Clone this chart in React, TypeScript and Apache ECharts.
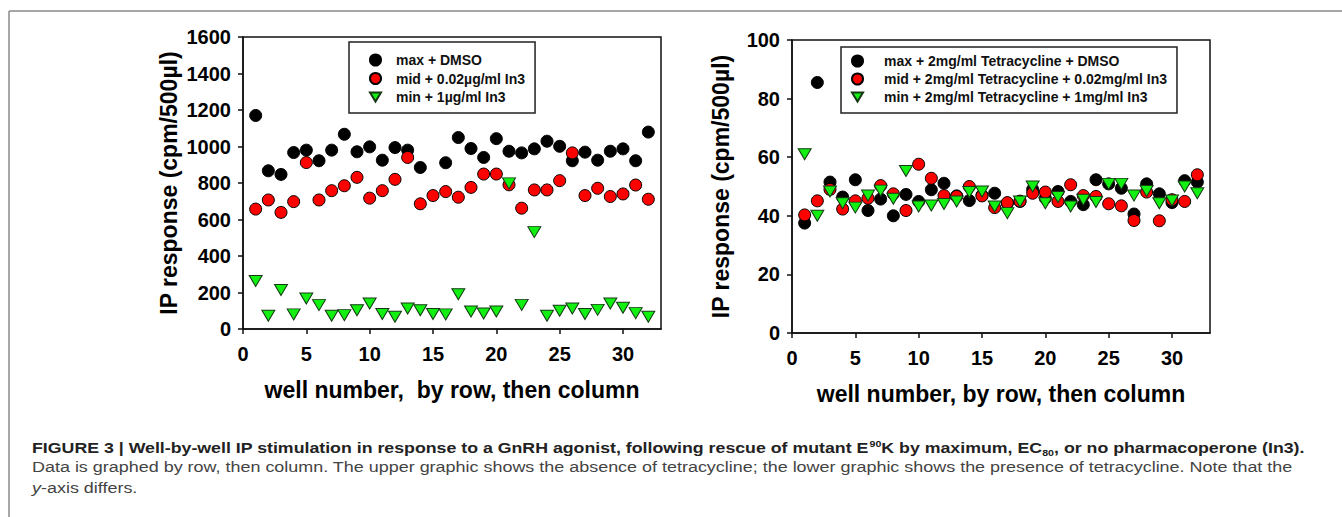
import React, { useEffect, useRef } from "react";
import * as echarts from "echarts";

const wells = [1, 2, 3, 4, 5, 6, 7, 8, 9, 10, 11, 12, 13, 14, 15, 16, 17, 18, 19, 20, 21, 22, 23, 24, 25, 26, 27, 28, 29, 30, 31, 32];
const xTicks = [0, 5, 10, 15, 20, 25, 30];

// Left panel (no tetracycline)
const leftNames = ["max + DMSO", "mid + 0.02\u00b5g/ml In3", "min + 1\u00b5g/ml In3"];
const maxDMSO = [1170, 867, 847, 967, 980, 922, 980, 1067, 971, 998, 925, 994, 980, 885, null, 911, 1049, 989, 940, 1043, 974, 965, 987, 1029, 1001, 922, 969, 925, 974, 987, 922, 1079];
const midIn3 = [657, 707, 639, 698, 912, 707, 758, 785, 831, 717, 758, 820, 940, 686, 731, 753, 722, 776, 849, 849, 790, 662, 762, 762, 813, 965, 731, 771, 726, 740, 789, 711];
const minIn3 = [263, 73, 214, 80, 167, 131, 73, 76, 103, 140, 82, 67, 112, 103, 82, 80, 190, 96, 85, 96, 798, 132, 531, 73, 100, 112, 82, 105, 140, 116, 87, 67];

// Right panel (with tetracycline)
const rightNames = [
  "max + 2mg/ml Tetracycline + DMSO",
  "mid + 2mg/ml Tetracycline + 0.02mg/ml In3",
  "min + 2mg/ml Tetracycline + 1mg/ml In3",
];
const maxTet = [37.5, 85.5, 51.5, 46.4, 52.3, 41.8, 45.7, 40, 47.3, 44.9, 48.9, 51.1, 46.8, 45.2, 47, 47.7, 44.3, 44.9, 49, 46, 48.3, 44.9, 43.8, 52.3, 50.9, 49.4, 40.6, 50.9, 47.5, 44.5, 52, 51.5];
const midTet = [40.3, 45.1, 49, 42.3, 45.1, 46, 50.3, 47.5, 41.8, 57.6, 52.8, 46.9, 46.6, 50, 46.8, 42.8, 44.5, 45, 47.7, 48.1, 44.9, 50.6, 46.9, 46.6, 44.1, 43.4, 38.4, 48.1, 38.3, 45.5, 44.9, 54];
const minTet = [61, 40, 48.3, 44.3, 42.8, 46.9, 48.6, 45.8, 55.3, 43.2, 43.5, 44, 44.9, 48.1, 48.3, 43.2, 40.9, 44.9, 50, 44.3, 46.4, 43.2, 45.5, 44.7, 50.9, 50.9, 46.9, 48.5, 44.3, 45.2, 50, 47.7];

const yTitle = "IP response (cpm/500\u00b5l)";
const leftXTitle = "well number,  by row, then column";
const rightXTitle = "well number, by row, then column";

const FONT = "Liberation Sans, Arial, Helvetica, sans-serif";
const DOWN_TRI = "path://M0,0 L12,0 L6,10 Z";

const toPairs = (vals: (number | null)[]) =>
  wells.map((w, i) => [w, vals[i]]).filter((p) => p[1] !== null);

const circleStyle = (color: string) => ({
  symbol: "circle",
  symbolSize: 12,
  itemStyle: { color, borderColor: "#000", borderWidth: 1, opacity: 1 },
});
const triStyle = {
  symbol: "triangle",
  symbolRotate: 180,
  symbolSize: [13, 11],
  itemStyle: { color: "#12f012", borderColor: "#143814", borderWidth: 1, opacity: 1 },
};

const makeX = (gridIndex: number, name: string) => ({
  type: "value",
  gridIndex,
  min: 0,
  max: 33,
  interval: 5,
  name,
  nameLocation: "middle",
  nameGap: 49,
  nameTextStyle: { fontFamily: FONT, fontWeight: "bold", fontSize: 23, color: "#000" },
  axisLine: { show: true, lineStyle: { color: "#111", width: 1.5 } },
  axisTick: { show: true, inside: false, length: 5, lineStyle: { color: "#111", width: 1.5 }, customValues: xTicks },
  axisLabel: {
    fontFamily: FONT,
    fontWeight: "bold",
    fontSize: 20,
    color: "#000",
    margin: 15,
    customValues: xTicks,
    formatter: (v: number) => (v % 5 === 0 ? String(v) : ""),
  },
  splitLine: { show: false },
});

const makeY = (gridIndex: number, max: number, interval: number, nameGap: number) => ({
  type: "value",
  gridIndex,
  min: 0,
  max,
  interval,
  name: yTitle,
  nameLocation: "middle",
  nameRotate: 90,
  nameGap,
  nameTextStyle: { fontFamily: FONT, fontWeight: "bold", fontSize: 23, color: "#000" },
  axisLine: { show: true, lineStyle: { color: "#111", width: 1.5 } },
  axisTick: { show: true, inside: false, length: 5, lineStyle: { color: "#111", width: 1.5 } },
  axisLabel: {
    fontFamily: FONT,
    fontWeight: "bold",
    fontSize: 20,
    color: "#000",
    margin: 12,
    formatter: (v: number) => String(v),
  },
  splitLine: { show: false },
});

const legendText = { fontFamily: FONT, fontWeight: "bold", fontSize: 14, color: "#111", lineHeight: 14 };

const legendBase = {
  orient: "vertical",
  itemWidth: 11,
  itemHeight: 11,
  itemGap: 4.5,
  borderColor: "#222",
  borderWidth: 1.5,
  backgroundColor: "#fff",
  selectedMode: false,
};

export default function App() {
  const ref = useRef<HTMLDivElement>(null);
  useEffect(() => {
    if (!ref.current) return;
    const chart = echarts.init(ref.current, null, { renderer: "svg" });
    const option: any = {
      animation: false,
      backgroundColor: "#fff",
      grid: [
        { left: 243, top: 37, width: 418, height: 292, show: true, borderColor: "#111", borderWidth: 1.5, backgroundColor: "transparent" },
        { left: 792, top: 40, width: 418, height: 293, show: true, borderColor: "#111", borderWidth: 1.5, backgroundColor: "transparent" },
      ],
      xAxis: [makeX(0, leftXTitle), makeX(1, rightXTitle)],
      yAxis: [makeY(0, 1600, 200, 63), makeY(1, 100, 20, 60)],
      legend: [
        {
          ...legendBase,
          data: [leftNames[0], leftNames[1], { name: leftNames[2], icon: DOWN_TRI }],
          left: 349,
          top: 42,
          padding: [11, 10, 9, 20],
          textStyle: { ...legendText, padding: [0, 0, 0, 10] },
        },
        {
          ...legendBase,
          data: [rightNames[0], rightNames[1], { name: rightNames[2], icon: DOWN_TRI }],
          left: 841,
          top: 47,
          itemGap: 4,
          padding: [7, 10, 9, 10],
          textStyle: { ...legendText, padding: [0, 0, 0, 16] },
        },
      ],
      series: [
        { type: "scatter", name: leftNames[0], xAxisIndex: 0, yAxisIndex: 0, data: toPairs(maxDMSO), ...circleStyle("#000") },
        { type: "scatter", name: leftNames[1], xAxisIndex: 0, yAxisIndex: 0, data: toPairs(midIn3), ...circleStyle("#ff0000") },
        { type: "scatter", name: leftNames[2], xAxisIndex: 0, yAxisIndex: 0, data: toPairs(minIn3), ...triStyle },
        { type: "scatter", name: rightNames[0], xAxisIndex: 1, yAxisIndex: 1, data: toPairs(maxTet), ...circleStyle("#000") },
        { type: "scatter", name: rightNames[1], xAxisIndex: 1, yAxisIndex: 1, data: toPairs(midTet), ...circleStyle("#ff0000") },
        { type: "scatter", name: rightNames[2], xAxisIndex: 1, yAxisIndex: 1, data: toPairs(minTet), ...triStyle },
      ],
      graphic: [
        { type: "line", shape: { x1: 9, y1: 11, x2: 1342, y2: 11 }, style: { stroke: "#8a8a8a", lineWidth: 1.5 } },
        { type: "line", shape: { x1: 9, y1: 11, x2: 9, y2: 517 }, style: { stroke: "#8a8a8a", lineWidth: 1.5 } },
        {
          type: "text",
          x: 32,
          y: 448,
          scaleX: 1.184,
          style: {
            text:
              "{b|FIGURE 3 | Well-by-well IP stimulation in response to a GnRH agonist, following rescue of mutant E}{sup|90}{b|K by maximum, EC}{sub|80}{b|, or no pharmacoperone (In3).}",
            verticalAlign: "middle",
            rich: {
              b: { fontFamily: FONT, fontWeight: "bold", fontSize: 15, fill: "#222", lineHeight: 18 },
              sup: { fontFamily: FONT, fontWeight: "bold", fontSize: 9, fill: "#222", verticalAlign: "top", lineHeight: 18 },
              sub: { fontFamily: FONT, fontWeight: "bold", fontSize: 9, fill: "#222", verticalAlign: "bottom", lineHeight: 18 },
            },
          },
        },
        {
          type: "text",
          x: 32,
          y: 467,
          scaleX: 1.197,
          style: {
            text:
              "Data is graphed by row, then column. The upper graphic shows the absence of tetracycline; the lower graphic shows the presence of tetracycline. Note that the",
            fontFamily: FONT,
            fontSize: 15,
            fill: "#444",
            verticalAlign: "middle",
          },
        },
        {
          type: "text",
          x: 32,
          y: 488,
          scaleX: 1.197,
          style: {
            text: "{i|y}{r|-axis differs.}",
            verticalAlign: "middle",
            rich: {
              i: { fontFamily: FONT, fontStyle: "italic", fontSize: 15, fill: "#444" },
              r: { fontFamily: FONT, fontSize: 15, fill: "#444" },
            },
          },
        },
      ],
    };
    chart.setOption(option);
    return () => chart.dispose();
  }, []);
  return (
    <div
      ref={ref}
      style={{ position: "absolute", left: 0, top: 0, width: 1342, height: 517, background: "#fff" }}
    />
  );
}
